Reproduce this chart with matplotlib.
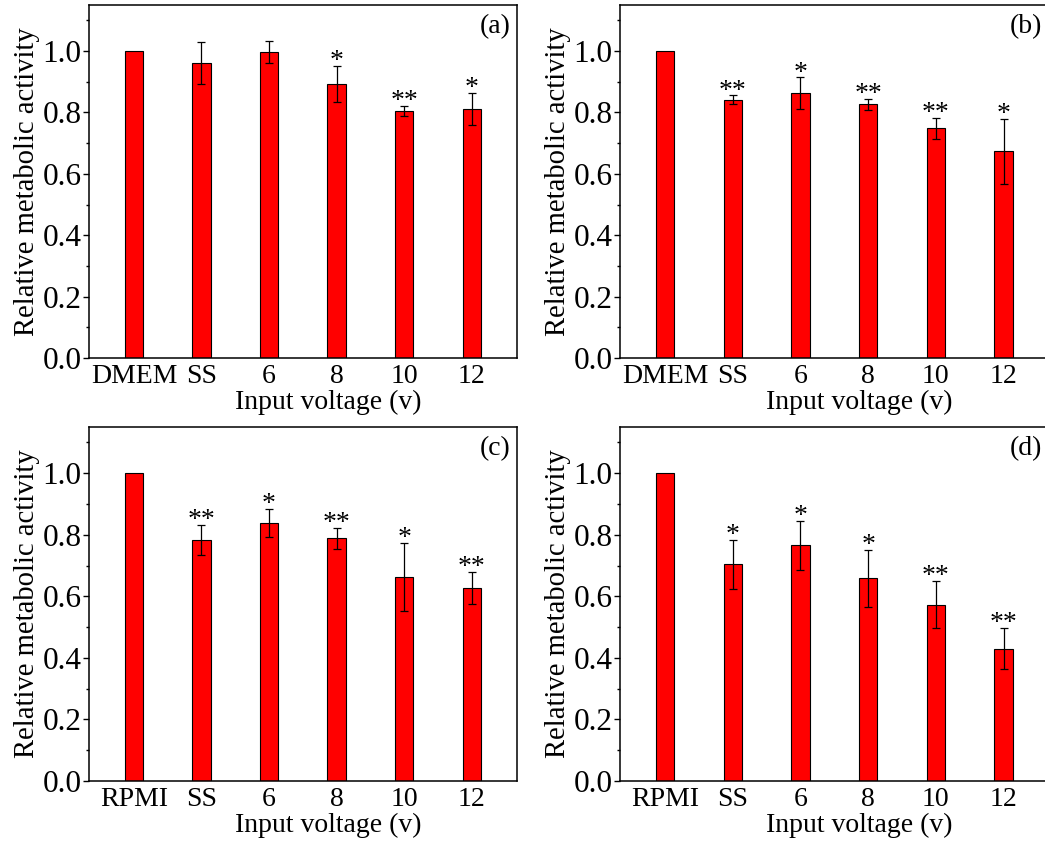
import numpy as np
import matplotlib
matplotlib.use('Agg')
import matplotlib.pyplot as plt
from matplotlib.ticker import MultipleLocator

plt.rcParams['font.family'] = ['Liberation Serif', 'DejaVu Serif']

# data
groups_ab = ['DMEM', 'SS', '6', '8', '10', '12']
groups_cd = ['RPMI', 'SS', '6', '8', '10', '12']

mean_a = [1.0, 0.962, 0.997, 0.893, 0.804, 0.812]
err_a = [0.0, 0.068, 0.037, 0.058, 0.017, 0.052]
star_a = ['', '', '', '*', '**', '*']

mean_b = [1.0, 0.842, 0.863, 0.827, 0.748, 0.674]
err_b = [0.0, 0.014, 0.051, 0.018, 0.034, 0.106]
star_b = ['', '**', '*', '**', '**', '*']

mean_c = [1.0, 0.784, 0.839, 0.788, 0.663, 0.627]
err_c = [0.0, 0.049, 0.046, 0.034, 0.110, 0.053]
star_c = ['', '**', '*', '**', '*', '**']

mean_d = [1.0, 0.704, 0.766, 0.658, 0.573, 0.430]
err_d = [0.0, 0.079, 0.080, 0.094, 0.077, 0.067]
star_d = ['', '*', '*', '*', '**', '**']

W, H = 1045, 844
fig = plt.figure(figsize=(W / 100, H / 100), dpi=100)

# axes boxes in pixels: left, right, top, bottom
boxes = [(89, 517, 5, 358), (620, 1049, 5, 358),
         (89, 517, 427, 781), (620, 1049, 427, 781)]
panels = [(groups_ab, mean_a, err_a, star_a, '(a)'),
          (groups_ab, mean_b, err_b, star_b, '(b)'),
          (groups_cd, mean_c, err_c, star_c, '(c)'),
          (groups_cd, mean_d, err_d, star_d, '(d)')]

for (l, r, t, b), (groups, mean, err, stars, tag) in zip(boxes, panels):
    ax = fig.add_axes([l / W, 1 - b / H, (r - l) / W, (b - t) / H])
    x = np.arange(len(groups))
    ax.bar(x, mean, width=0.27, color='#ff0000', edgecolor='black', linewidth=0.8)
    ex = [i for i in x if err[i] > 0]
    ax.errorbar(ex, [mean[i] for i in ex], yerr=[err[i] for i in ex], fmt='none',
                ecolor='black', elinewidth=0.9, capsize=3, capthick=0.9)
    # significance marks
    for i in x:
        if stars[i]:
            ax.text(i, mean[i] + err[i] - 0.027, stars[i], ha='center', va='bottom',
                    fontsize=20)
    ax.set_xlim(-0.665, 5.67)
    ax.set_ylim(0, 1.15)
    ax.set_xticks(x)
    ax.set_xticklabels(groups)
    ax.yaxis.set_major_locator(MultipleLocator(0.2))
    ax.yaxis.set_minor_locator(MultipleLocator(0.1))
    ax.yaxis.set_major_formatter(matplotlib.ticker.FormatStrFormatter('%.1f'))
    ax.tick_params(axis='x', length=0, labelsize=20, pad=4)
    ax.tick_params(axis='y', which='major', direction='out', length=4.5, width=1,
                   labelsize=22.5, pad=1)
    ax.tick_params(axis='y', which='minor', direction='out', length=2.5, width=1)
    for s in ax.spines.values():
        s.set_linewidth(1.1)
    ax.set_ylabel('Relative metabolic activity', fontsize=20.6, labelpad=2)
    ax.set_xlabel('Input voltage (v)', fontsize=20, labelpad=0)
    ax.xaxis.set_label_coords(0.558, -0.09)
    ax.text(0.985, 0.975, tag, transform=ax.transAxes, ha='right', va='top',
            fontsize=20)

fig.savefig('out.png', dpi=100)
